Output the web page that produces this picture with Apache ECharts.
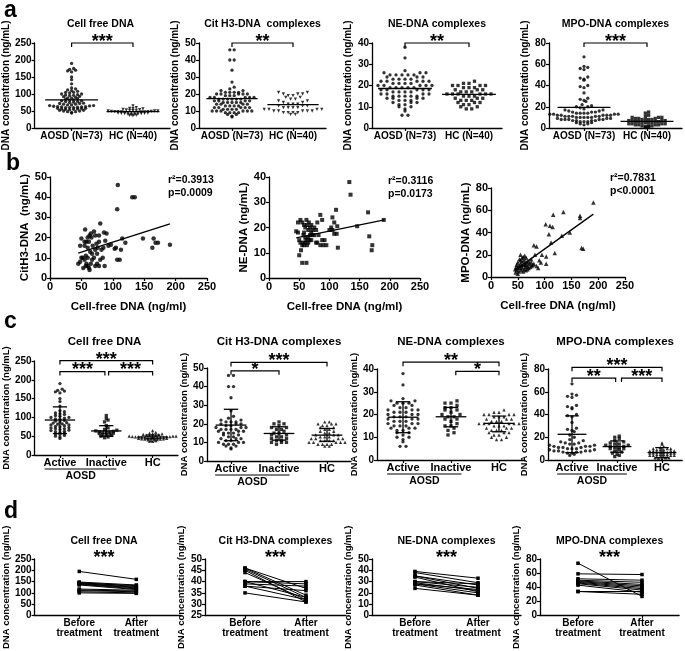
<!DOCTYPE html>
<html>
<head>
<meta charset="utf-8">
<title>NET markers in AOSD</title>
<script src="https://cdn.jsdelivr.net/npm/echarts@6/dist/echarts.min.js"></script>
<style>
html,body{margin:0;padding:0;background:#fff;}
#main{width:685px;height:651px;}
</style>
</head>
<body>
<div id="main"></div>
<script>
// ---------- data ----------
// cell free DNA (ng/mL)
var cfActive = [190,175,172,170,168,165,150,142,130,118,115,112,110,108,105,103,100,100,98,96,95,92,90,88,86,85,83,82,80,80,78,76,75,73,72,70,70,68,66,65,63,62,60,58,56,55,52,50,48,44];
var cfInactive = [105,97,93,88,78,72,68,66,64,63,62,61,60,60,58,57,56,55,54,52,50,48,46];
var cfHC = [65,60,58,57,56,55,54,53,52,52,51,50,50,50,49,49,48,48,48,47,47,47,46,46,45,45,45,44,44,43,43,42,42,41,40,40,39,38,37,36];
// Cit H3-DNA complexes
var citActive = [46,46,40,40,34,27,24,23,22,22,21,21,21,20,20,20,19,19,18,18,18,17,17,17,17,16,16,16,15,15,15,14,14,13,13,12,12,12,11,11,10,10,10,9,9,9,8,8,7,6.5];
var citInactive = [21,20,20,19,18,18,17,17,16,15,15,14,14,13,13,12,12,11,11,10,10,10,9];
var citHC = [21,21,20,20,20,19,19,18,18,17,17,16,16,15,15,14,14,14,13,13,13,12,12,12,12,11,11,11,11,10,10,10,10,10,9,9,9,9,8,8];
// NE-DNA complexes
var neActive = [38,33,27,26,26,25,25,25,24,24,23,23,22,22,22,21,21,21,20,20,20,19,19,19,18,18,18,17,17,17,16,16,16,15,15,15,14,14,14,13,13,12,12,11,10,10,9,8,6,6];
var neInactive = [26,25,25,24,23,23,22,22,21,20,20,19,19,18,18,17,16,15,15,14,13,12,11];
var neHC = [22,21,21,20,20,20,20,19,19,19,18,18,18,17,17,17,16,16,16,16,16,16,15,15,15,14,14,14,13,13,13,12,12,12,11,11,10,10,9,9];
// MPO-DNA complexes
var mpoActive = [67,58,57,56,55,48,47,46,45,40,39,38,33,28,27,26,25,22,20,18,17,16,15,15,14,14,13,13,12,12,12,11,11,11,10,10,10,9,9,8,8,8,8,7,7,7,6,6,5,4];
var mpoInactive = [21,20,19,17,16,15,14,14,13,13,12,12,11,11,10,10,9,8,7,6,5,4,3];
var mpoHC = [15,14,12,11,10,10,10,9,9,9,8,8,8,8,7,7,7,7,6,6,6,6,5,5,5,5,4,4,4,4,3,3,3,3,2,2,2,1.5,1,0.5];

// row a: group means (AOSD, HC)
var cfMeanA = [83, 48];
var citMeanA = [17.3, 13.7];
var neMeanA = [18.6, 15.8];
var mpoMeanA = [19.5, 6.2];

// row c: mean, lower and upper SD (Active, Inactive, HC)
var cfMeanC = [93, 64, 48],        cfLoC = [57, 50, 43],        cfHiC = [128, 78, 53];
var citMeanC = [19.3, 14.8, 13.9], citLoC = [10.9, 11.2, 10.6], citHiC = [27.8, 18.4, 17.5];
var neMeanC = [18.8, 19.0, 16.1],  neLoC = [12, 14.6, 12.4],    neHiC = [25.6, 23.1, 19.3];
var mpoMeanC = [22.6, 11.8, 6.5],  mpoLoC = [6.5, 6.8, 2],      mpoHiC = [38.8, 16.8, 10.9];

// row b: [cell free DNA, marker]
var b1Pts = [[108,46],[131,40],[135,40],[107,34],[80,27],[56,24],[191,16.5],[165,19.5],[168,17.5],[172,17.5],[163,15],[148,19.5],[120,17.5],[115,19.5],[113,14],[105,15],[103,14.5],[107,9],[111,9],[90,22],[86,22.5],[93,16],[88,18.5],[84,10],[87,6],[78,21],[78,18],[72,21],[70,23],[72,14],[75,12],[68,16],[65,22],[63,21],[62,18],[60,20],[60,15],[58,18],[55,16],[55,18],[50,19.5],[48,16],[48,8],[45,7],[50,10],[52,10],[55,9],[57,11],[58,7],[60,6],[62,5],[63,4],[65,7],[67,9],[70,10],[72,6],[75,7],[78,6],[80,9],[82,14],[85,15],[53,5],[57,6],[67,12],[74,17],[64,13],[60,10],[97,16.5],[76,15],[66,20]];
var b2Pts = [[133,38],[135,33],[111,27],[164,26],[190,23],[146,20.5],[166,16.5],[171,13],[170,11],[114,12],[113,20.5],[105,19],[105,24],[108,22],[112,17.5],[100,19],[103,20],[85,25],[88,23],[80,22],[75,20],[72,19],[70,18],[68,17],[65,16],[62,15],[60,14],[58,13],[55,13],[52,14],[50,15],[48,18],[45,18.5],[48,22],[52,23],[55,22],[58,21],[60,20],[62,23],[63,21],[65,19],[68,20],[70,21],[72,17],[75,17],[78,14],[80,14],[85,13],[88,15],[90,13],[92,15],[95,13],[50,9],[55,6],[62,6],[57,17],[60,16],[65,14],[67,15],[78,19],[82,17],[108,17.5],[58,18],[63,13],[53,11],[70,15],[57,14],[66,22]];
var b3Pts = [[191,67],[135,58.5],[116,56],[166,55],[166,53],[102,47.5],[110,46],[115,45],[108,38.5],[147,40],[112,31],[132,37],[169,26],[172,25.5],[119,21.5],[80,28.5],[85,27.5],[103,18.5],[103,12],[95,20],[93,13],[90,15],[88,8],[85,10],[82,20],[80,12],[78,11],[76,10],[75,13],[73,9],[72,12],[70,14],[70,8],[68,10],[67,13],[66,17],[65,6],[64,9],[63,12],[62,15],[62,7],[60,11],[60,18],[58,8],[58,14],[57,10],[56,6],[55,20],[55,12],[54,8],[53,16],[52,10],[52,5],[50,13],[50,8],[48,11],[48,6],[47,9],[46,4],[45,7],[58,17],[63,19],[65,11],[75,16],[68,7],[60,5],[55,15],[50,3]];
var b1Fit = [[45,12.3],[191,26.8]];
var b2Fit = [[45,15.9],[191,23]];
var b3Fit = [[45,6.2],[191,56.5]];
var b1Stat = ['r\u00b2=0.3913', 'p=0.0009'];
var b2Stat = ['r\u00b2=0.3116', 'p=0.0173'];
var b3Stat = ['r\u00b2=0.7831', 'p<0.0001'];

// row d: before / after treatment, one entry per patient
var cfBefore = [195,148,146,144,142,140,138,135,117,113,110,105,100];
var cfAfter  = [160,135,128,132,125,122,118,115,112,108,105,100,98];
var citBefore = [46,45.5,45,44,46,40,40,40,39,38,38,35];
var citAfter  = [34,33,31,32,37,40,39,33,38,36,32,31];
var neBefore = [39,38,35,35,34,30,30,29,28,28,27,24];
var neAfter  = [33,29,27,24,21,28,25,22,20,23,18,18];
var mpoBefore = [74,59,52,50,49,48,47,46,45,43,34,34];
var mpoAfter  = [27,58,50,47,44,42,40,38,36,33,30,34];

// ---------- helpers ----------
var FONT = '"Liberation Sans", Arial, sans-serif';
var grids = [], xAxes = [], yAxes = [], series = [], graphics = [];

function txt(size) {
  return {color: '#000', fontFamily: FONT, fontWeight: 'bold', fontSize: size};
}
function axisCommon(gi) {
  return {
    gridIndex: gi, type: 'value',
    axisLine: {show: true, onZero: false, lineStyle: {color: '#000', width: 1.3}},
    axisTick: {show: true, length: 3, lineStyle: {color: '#000', width: 1.2}},
    splitLine: {show: false}
  };
}
function label(x, y, text, size, align) {
  graphics.push({type: 'text', x: x, y: y, silent: true,
    style: {text: text, font: 'bold ' + size + 'px ' + FONT, fill: '#000',
      align: align || 'center', verticalAlign: 'middle',
      textAlign: align || 'center', textVerticalAlign: 'middle'}});
}

// dot-plot layout like Prism: values grouped in rows of height `bin`,
// points of a row spread side by side `s` px apart; y stays the real value
function swarm(vals, cx, xPx, bin, s) {
  var rows = {};
  vals.forEach(function (v) {
    var k = Math.floor(v / bin + 0.5);
    (rows[k] = rows[k] || []).push(v);
  });
  var out = [];
  Object.keys(rows).forEach(function (k) {
    var r = rows[k].slice().sort(function (a, b) { return a - b; });
    var n = r.length;
    var slots = r.map(function (v, i) { return (i - (n - 1) / 2) * s; })
      .sort(function (a, b) { return Math.abs(a) - Math.abs(b) || a - b; });
    r.forEach(function (v, i) { out.push([cx + slots[i] / xPx, v]); });
  });
  return out;
}

// bracket with stars, drawn in data units of a grid
function bracketSeries(gi, list) {
  series.push({
    type: 'custom', xAxisIndex: gi, yAxisIndex: gi, silent: true, z: 6,
    encode: {x: [0, 1], y: 2},
    data: list.map(function (b) { return [b[0], b[1], b[2]]; }),
    renderItem: function (params, api) {
      var b = list[params.dataIndex];
      var p0 = api.coord([api.value(0), api.value(2)]);
      var p1 = api.coord([api.value(1), api.value(2)]);
      return {type: 'group', children: [
        {type: 'polyline', shape: {points: [[p0[0], p0[1] + 4], p0, p1, [p1[0], p1[1] + 4]]},
          style: {stroke: '#000', lineWidth: 1.2, fill: null}},
        {type: 'text', x: (p0[0] + p1[0]) / 2, y: p0[1] + 8,
          style: {text: b[3], font: 'bold 18px ' + FONT, fill: '#000',
            align: 'center', verticalAlign: 'bottom', textAlign: 'center', textVerticalAlign: 'bottom'}}
      ]};
    }
  });
}

// mean line with optional SD whiskers
function summarySeries(gi, u, rows, meanHalf, capHalf) {
  series.push({
    type: 'custom', xAxisIndex: gi, yAxisIndex: gi, silent: true, z: 5,
    data: rows,
    renderItem: function (params, api) {
      var x = api.value(0), m = api.value(1), lo = api.value(2), hi = api.value(3);
      var c = api.coord([x, m]), hw = meanHalf * u, cw = capHalf * u;
      var st = {stroke: '#000', lineWidth: 1.3};
      var kids = [{type: 'line', shape: {x1: c[0] - hw, y1: c[1], x2: c[0] + hw, y2: c[1]}, style: st}];
      if (hi != null && !isNaN(hi)) {
        var l = api.coord([x, lo]), h = api.coord([x, hi]);
        kids.push({type: 'line', shape: {x1: c[0], y1: l[1], x2: c[0], y2: h[1]}, style: st});
        kids.push({type: 'line', shape: {x1: c[0] - cw, y1: l[1], x2: c[0] + cw, y2: l[1]}, style: st});
        kids.push({type: 'line', shape: {x1: c[0] - cw, y1: h[1], x2: c[0] + cw, y2: h[1]}, style: st});
      }
      return {type: 'group', children: kids};
    }
  });
}

// category-like panel on a value x axis (groups at 0,1,2...)
function catPanel(p) {
  var gi = grids.length, n = p.labels.length;
  var xmin = -(p.g0 - p.axisX) / p.u;
  var xmax = p.xmax != null ? p.xmax : (n - 1) - xmin;
  var width = (xmax - xmin) * p.u, height = p.bottom - p.top;
  var ymin = p.ymin || 0;
  var cats = p.labels.map(function (l, i) { return i; });
  grids.push({left: p.axisX, top: p.top, width: width, height: height});
  var xa = axisCommon(gi);
  xa.min = xmin; xa.max = xmax;
  xa.axisTick = {show: true, length: 3, customValues: cats, lineStyle: {color: '#000', width: 1.2}};
  xa.axisLabel = Object.assign(txt(p.xFont || 10), {customValues: cats, margin: 3, lineHeight: 10,
    formatter: function (v) { return p.labels[Math.round(v)]; }});
  xAxes.push(xa);
  var ya = axisCommon(gi);
  ya.min = ymin; ya.max = p.ymax; ya.interval = p.step;
  ya.axisLabel = Object.assign(txt(p.yFont || 10), {margin: 3});
  ya.name = 'DNA concentration (ng/mL)';
  ya.nameLocation = 'middle'; ya.nameGap = p.nameGap || 18;
  ya.nameTextStyle = txt(p.nameFont || 10);
  yAxes.push(ya);
  label(p.axisX + width / 2, p.titleY, p.title, p.titleFont || 10.5);
  return {gi: gi, u: p.u, width: width};
}

function dotPanel(p) {
  var g = catPanel(p);
  p.groups.forEach(function (grp, i) {
    series.push({type: 'scatter', xAxisIndex: g.gi, yAxisIndex: g.gi, silent: true,
      symbol: grp.symbol, symbolRotate: grp.rotate || 0, symbolSize: grp.size || 3.3,
      itemStyle: {color: '#000'},
      data: swarm(grp.vals, i, g.u, grp.bin, grp.s)});
  });
  summarySeries(g.gi, g.u, p.summary, p.meanHalf, p.capHalf);
  bracketSeries(g.gi, p.brackets);
  if (p.aosdLine) {
    series.push({type: 'custom', xAxisIndex: g.gi, yAxisIndex: g.gi, silent: true,
      data: [p.aosdLine],
      renderItem: function (params, api) {
        var a = api.coord([api.value(0), 0]), b = api.coord([api.value(1), 0]);
        var y = a[1] + 14;
        return {type: 'group', children: [
          {type: 'line', shape: {x1: a[0], y1: y, x2: b[0], y2: y}, style: {stroke: '#000', lineWidth: 1}},
          {type: 'text', x: (a[0] + b[0]) / 2, y: y + 1.5,
            style: {text: 'AOSD', font: 'bold 10.5px ' + FONT, fill: '#000',
              align: 'center', verticalAlign: 'top', textAlign: 'center', textVerticalAlign: 'top'}}
        ]};
      }});
  }
}

function rows2(means) { return means.map(function (m, i) { return [i, m]; }); }
function rows4(m, lo, hi) { return m.map(function (v, i) { return [i, v, lo[i], hi[i]]; }); }

// ---------- row a ----------
var labA = ['AOSD (N=73)', 'HC (N=40)'];
var rowA = [
  {axisX: 31, g0: 69, u: 63, ymax: 250, step: 50, title: 'Cell free DNA', mean: cfMeanA, stars: '***', gap: 18,
    groups: [{vals: cfActive.concat(cfInactive), symbol: 'circle', bin: 7, s: 4.1},
             {vals: cfHC, symbol: 'triangle', rotate: 180, bin: 6, s: 3.4}]},
  {axisX: 199, g0: 232, u: 61, ymax: 50, step: 10, title: 'Cit H3-DNA  complexes', mean: citMeanA, stars: '**', gap: 19,
    groups: [{vals: citActive.concat(citInactive), symbol: 'circle', bin: 2, s: 4.4},
             {vals: citHC, symbol: 'triangle', rotate: 180, bin: 2.5, s: 4.8}]},
  {axisX: 372, g0: 405, u: 64, ymax: 40, step: 10, title: 'NE-DNA complexes', mean: neMeanA, stars: '**', gap: 19,
    groups: [{vals: neActive.concat(neInactive), symbol: 'circle', bin: 2, s: 6},
             {vals: neHC, symbol: 'rect', bin: 2, s: 5.5}]},
  {axisX: 549, g0: 584, u: 63, ymax: 80, step: 20, title: 'MPO-DNA complexes', mean: mpoMeanA, stars: '***', gap: 19,
    groups: [{vals: mpoActive.concat(mpoInactive), symbol: 'circle', bin: 4, s: 3.8},
             {vals: mpoHC, symbol: 'rect', bin: 3, s: 3.3}]}
];
rowA.forEach(function (r) {
  dotPanel({axisX: r.axisX, g0: r.g0, u: r.u, top: 43, bottom: 128, ymax: r.ymax, step: r.step,
    labels: labA, title: r.title, titleY: 24, xFont: 10, groups: r.groups, nameGap: r.gap,
    summary: rows2(r.mean), meanHalf: 0.42, capHalf: 0,
    brackets: [[0, 1, r.ymax, r.stars]]});
});

// ---------- row b ----------
var rowB = [
  {left: 50, width: 157, top: 177, bottom: 278, ymax: 50, step: 10, name: 'CitH3-DNA  (ng/mL)', gap: 17,
    pts: b1Pts, fit: b1Fit, symbol: 'circle', size: 4.5, stat: b1Stat, sx: 168, sy: 180},
  {left: 269, width: 151, top: 177, bottom: 278, ymax: 40, step: 10, name: 'NE-DNA (ng/mL)', gap: 19,
    pts: b2Pts, fit: b2Fit, symbol: 'rect', size: 4, stat: b2Stat, sx: 388, sy: 181},
  {left: 491, width: 134, top: 188, bottom: 277, ymax: 80, step: 20, name: 'MPO-DNA (ng/mL)', gap: 18,
    pts: b3Pts, fit: b3Fit, symbol: 'triangle', size: 4.5, stat: b3Stat, sx: 610, sy: 178}
];
rowB.forEach(function (r) {
  var gi = grids.length;
  grids.push({left: r.left, top: r.top, width: r.width, height: r.bottom - r.top});
  var xa = axisCommon(gi);
  xa.min = 0; xa.max = 250; xa.interval = 50;
  xa.axisLabel = Object.assign(txt(11), {margin: 3});
  xa.name = 'Cell-free DNA (ng/ml)'; xa.nameLocation = 'middle'; xa.nameGap = 23;
  xa.nameTextStyle = txt(11.5);
  xAxes.push(xa);
  var ya = axisCommon(gi);
  ya.min = 0; ya.max = r.ymax; ya.interval = r.step;
  ya.axisLabel = Object.assign(txt(11), {margin: 3});
  ya.name = r.name; ya.nameLocation = 'middle'; ya.nameGap = r.gap;
  ya.nameTextStyle = txt(11.5);
  yAxes.push(ya);
  series.push({type: 'scatter', xAxisIndex: gi, yAxisIndex: gi, silent: true,
    symbol: r.symbol, symbolSize: r.size, itemStyle: {color: '#000'}, data: r.pts});
  series.push({type: 'line', xAxisIndex: gi, yAxisIndex: gi, silent: true, showSymbol: false,
    lineStyle: {color: '#000', width: 1.3}, data: r.fit});
  label(r.sx, r.sy, r.stat[0], 10.5, 'left');
  label(r.sx, r.sy + 13, r.stat[1], 10.5, 'left');
});

// ---------- row c ----------
var labC = ['Active', 'Inactive', 'HC'];
var rowC = [
  {axisX: 31, g0: 57, u: 47.5, top: 361, bottom: 455, ymax: 250, step: 50, title: 'Cell free DNA', gap: 18,
    vals: [cfActive, cfInactive, cfHC], bin: [7, 7, 6], s: [4.6, 3.6, 3.2], sum: rows4(cfMeanC, cfLoC, cfHiC),
    br: [[0, 2, 251, '***'], [0, 0.97, 222, '***'], [1.05, 2, 222, '***']]},
  {axisX: 207, g0: 231, u: 48, top: 368, bottom: 461, ymax: 50, step: 10, title: 'Cit H3-DNA complexes', gap: 17,
    vals: [citActive, citInactive, citHC], bin: [2, 2, 2], s: [5, 5, 4.5], sum: rows4(citMeanC, citLoC, citHiC),
    br: [[0, 2, 53, '***'], [0, 1, 48.5, '*']]},
  {axisX: 377, g0: 403, u: 48, top: 369, bottom: 460, ymax: 40, step: 10, title: 'NE-DNA complexes', gap: 17,
    vals: [neActive, neInactive, neHC], bin: [2, 2, 2], s: [6, 6, 5], sum: rows4(neMeanC, neLoC, neHiC),
    br: [[0, 2, 43, '**'], [1.1, 2, 39, '*']]},
  {axisX: 548, g0: 572, u: 45, top: 369, bottom: 460, ymax: 80, step: 20, title: 'MPO-DNA complexes', xmax: 2.45, gap: 19,
    vals: [mpoActive, mpoInactive, mpoHC], bin: [4, 3, 2], s: [4.5, 4.5, 3.5], sum: rows4(mpoMeanC, mpoLoC, mpoHiC),
    br: [[0, 2, 81.5, '***'], [0, 0.97, 72, '**'], [1.1, 2, 72, '***']]}
];
var symC = ['circle', 'rect', 'triangle'];
rowC.forEach(function (r) {
  dotPanel({axisX: r.axisX, g0: r.g0, u: r.u, top: r.top, bottom: r.bottom, ymax: r.ymax, step: r.step,
    xmax: r.xmax, labels: labC, title: r.title, titleY: 342, titleFont: 11.5, xFont: 11, yFont: 10,
    nameFont: 9.5, nameGap: r.gap,
    groups: r.vals.map(function (v, i) { return {vals: v, symbol: symC[i], bin: r.bin[i], s: r.s[i]}; }),
    summary: r.sum, meanHalf: 0.32, capHalf: 0.15, brackets: r.br, aosdLine: [-0.33, 1.22]});
});

// ---------- row d ----------
var labD = ['Before\ntreatment', 'After\ntreatment'];
var rowD = [
  {axisX: 27, g0: 74, u: 60, ymin: 0, ymax: 250, step: 50, title: 'Cell free DNA', b: cfBefore, a: cfAfter},
  {axisX: 205, g0: 245, u: 61, ymin: 25, ymax: 50, step: 5, title: 'Cit H3-DNA complexes', b: citBefore, a: citAfter},
  {axisX: 372, g0: 415, u: 63, ymin: 0, ymax: 50, step: 10, title: 'NE-DNA complexes', b: neBefore, a: neAfter},
  {axisX: 540, g0: 578, u: 64, ymin: 0, ymax: 80, step: 20, title: 'MPO-DNA complexes', b: mpoBefore, a: mpoAfter, xmax: 1.58}
];
rowD.forEach(function (r) {
  var g = catPanel({axisX: r.axisX, g0: r.g0, u: r.u, top: 559, bottom: 627, ymin: r.ymin, ymax: r.ymax,
    step: r.step, xmax: r.xmax, labels: labD, title: r.title, titleY: 541, xFont: 10, nameFont: 9.5, nameGap: 19});
  r.b.forEach(function (v, i) {
    series.push({type: 'line', xAxisIndex: g.gi, yAxisIndex: g.gi, silent: true,
      symbol: 'rect', symbolSize: 3.5, itemStyle: {color: '#000'},
      lineStyle: {color: '#000', width: 1}, data: [[0, v], [1, r.a[i]]]});
  });
  label(r.axisX + g.width / 2, 558, '***', 18);
});

// panel letters
label(4, 11, 'a', 23, 'left');
label(6, 164, 'b', 23, 'left');
label(4, 322, 'c', 23, 'left');
label(4, 512, 'd', 23, 'left');

var chart = echarts.init(document.getElementById('main'), null, {renderer: 'canvas'});
chart.setOption({
  animation: false,
  backgroundColor: '#fff',
  grid: grids,
  xAxis: xAxes,
  yAxis: yAxes,
  series: series,
  graphic: graphics
});
</script>
</body>
</html>
